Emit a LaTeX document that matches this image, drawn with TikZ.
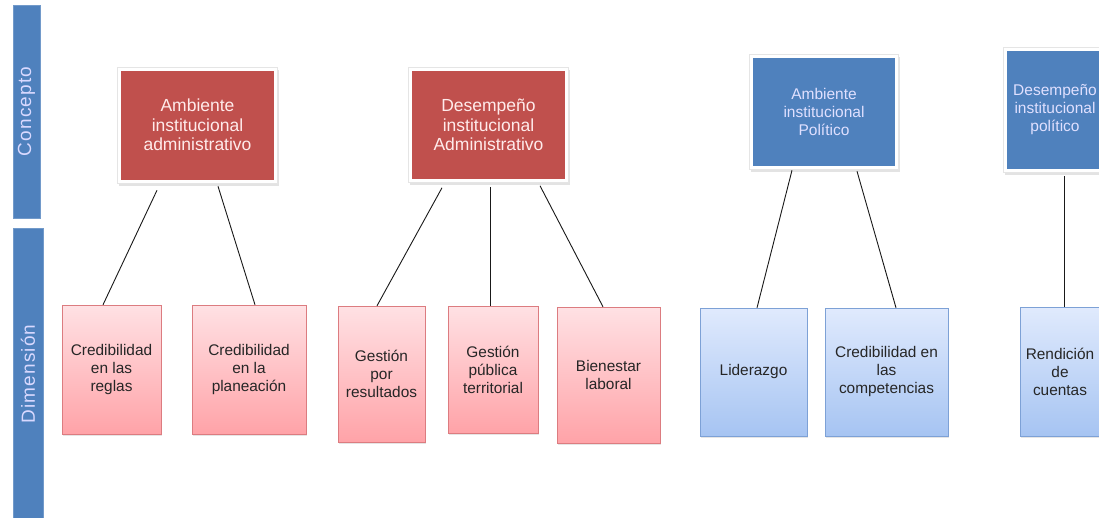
\documentclass[tikz,border=0pt]{standalone}
\usepackage{fontspec}
\setmainfont{Liberation Sans}
\newfontfamily\barfont[LetterSpace=6]{Liberation Sans}
\usetikzlibrary{shadows}
\definecolor{barBlue}{HTML}{4F81BD}
\definecolor{conRed}{HTML}{C0504D}
\definecolor{pinkTop}{HTML}{FFE1E4}
\definecolor{pinkBot}{HTML}{FFA3A8}
\definecolor{pinkLine}{HTML}{DC7C80}
\definecolor{skyTop}{HTML}{E0EAFD}
\definecolor{skyBot}{HTML}{A6C4F2}
\definecolor{skyLine}{HTML}{7DA1D6}
\colorlet{background}{white}
\colorlet{penColor}{black!90}
\tikzset{
  bar/.style={fill=barBlue,draw=barBlue!80!white,rotate=90,text=blue!15!white,
    font=\barfont\fontsize{19}{22}\selectfont,inner sep=0pt},
  concept/.style={fill=white,draw=black!10,line width=0.5pt,align=center,inner sep=0pt,
    path picture={\fill[#1] ([shift={(3.5pt,3.5pt)}]path picture bounding box.south west)
      rectangle ([shift={(-3.5pt,-3.5pt)}]path picture bounding box.north east);},
    drop shadow={shadow xshift=1pt,shadow yshift=-2.5pt,opacity=0.22}},
  dimred/.style={draw=pinkLine,top color=pinkTop,bottom color=pinkBot,align=center,
    inner sep=0pt,font=\fontsize{15.4}{18}\selectfont,text=black!85,
    drop shadow={shadow xshift=1pt,shadow yshift=-2pt,opacity=0.2}},
  dimblue/.style={dimred,draw=skyLine,top color=skyTop,bottom color=skyBot},
  link/.style={penColor,line width=0.9pt}
}

\begin{document}
\begin{tikzpicture}[x=1pt,y=-1pt]
  \useasboundingbox[fill=background] (0,0) rectangle (1099,517);
  % side bars
  \node[bar,minimum width=213pt,minimum height=27pt] (concepto) at (26.5,111.5) {Concepto};
  \node[bar,minimum width=292pt,minimum height=30pt] (dimension) at (28,374) {Dimensión};
  % concepts
  \node[concept=conRed,minimum width=160pt,minimum height=116pt,text=red!8!white,
    font=\fontsize{17.5}{19.5}\selectfont] (ambAdm) at (197.5,125) {Ambiente\\institucional\\administrativo};
  \node[concept=conRed,minimum width=160pt,minimum height=115pt,text=red!8!white,
    font=\fontsize{17.5}{19.5}\selectfont] (desAdm) at (488.5,125) {Desempeño\\institucional\\Administrativo};
  \node[concept=barBlue,minimum width=149pt,minimum height=115pt,text=blue!12!white,
    font=\fontsize{15.5}{18}\selectfont] (ambPol) at (824,111.5) {Ambiente\\institucional\\Político};
  \node[concept=barBlue,minimum width=103pt,minimum height=125pt,text=blue!12!white,
    font=\fontsize{15.5}{18}\selectfont] (desPol) at (1055,110) {Desempeño\\institucional\\político};
  % dimensions
  \node[dimred,minimum width=99pt,minimum height=129pt] (regl) at (111.5,369.5) {Credibilidad\\en las\\reglas};
  \node[dimred,minimum width=114pt,minimum height=129pt] (plan) at (249,369.5) {Credibilidad\\en la\\planeación};
  \node[dimred,minimum width=87pt,minimum height=136pt] (gres) at (381.5,374) {Gestión\\por\\resultados};
  \node[dimred,minimum width=90pt,minimum height=127pt] (gter) at (493,369.5) {Gestión\\pública\\territorial};
  \node[dimred,minimum width=103pt,minimum height=136pt] (bien) at (608.5,375) {Bienestar\\laboral};
  \node[dimblue,minimum width=107pt,minimum height=128pt] (lide) at (753.5,372) {Liderazgo};
  \node[dimblue,minimum width=123pt,minimum height=128pt] (comp) at (886.5,372) {Credibilidad en\\las\\competencias};
  \node[dimblue,minimum width=80pt,minimum height=129pt] (rend) at (1060,371.5) {Rendición\\de\\cuentas};
  % connectors
  \draw[link] ([xshift=-40.5pt,yshift=-7pt]ambAdm.south) -- ([xshift=-8.5pt]regl.north);
  \draw[link] ([xshift=20.5pt,yshift=-3pt]ambAdm.south) -- ([xshift=6pt]plan.north);
  \draw[link] ([xshift=-46.5pt,yshift=-5pt]desAdm.south) -- ([xshift=-4.5pt]gres.north);
  \draw[link] ([xshift=1.5pt,yshift=-4pt]desAdm.south) -- ([xshift=-3pt]gter.north);
  \draw[link] ([xshift=51.5pt,yshift=-3pt]desAdm.south) -- ([xshift=-5.5pt]bien.north);
  \draw[link] ([xshift=-32pt,yshift=-1pt]ambPol.south) -- ([xshift=3.5pt]lide.north);
  \draw[link] ([xshift=33pt,yshift=-2pt]ambPol.south) -- ([xshift=9.5pt]comp.north);
  \draw[link] ([xshift=9pt,yshift=-3pt]desPol.south) -- ([xshift=4pt]rend.north);
\end{tikzpicture}
\end{document}
